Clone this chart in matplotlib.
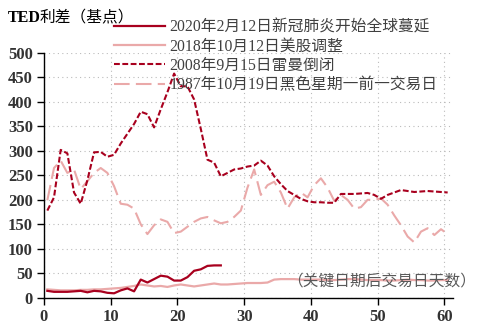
import numpy as np
import matplotlib
matplotlib.use('Agg')
import matplotlib.pyplot as plt

# 关键日期后交易日天数
days = np.arange(61) + 0.5

# TED利差（基点）
ted_2020 = [14, 12, 12, 12, 13, 14, 11, 14, 13, 10, 9, 15, 19, 13, 37, 31, 38, 45, 43, 35,
            35, 42, 55, 58, 65, 66, 66]
ted_2018 = [17, 16, 15, 15, 15, 16, 16, 17, 17, 18, 19, 20, 22, 24, 27, 25, 23, 24, 22, 25,
            27, 25, 23, 25, 27, 29, 27, 27, 28, 29, 30, 30, 30, 31, 37, 38, 38, 38, 37, 37,
            37, 37, 36, 36, 37, 38, 38, 37, 36, 36, 36, 35, 35, 36, 37, 36, 36, 35, 35, 36, 36]
ted_2008 = [178, 205, 302, 295, 215, 192, 240, 297, 298, 288, 292, 315, 335, 355, 380, 375, 348, 385, 420, 458,
            432, 432, 405, 345, 282, 276, 248, 255, 262, 264, 268, 270, 280, 270, 248, 232, 218, 210, 202, 197,
            195, 195, 194, 194, 212, 212, 212, 213, 214, 210, 202, 210, 215, 220, 218, 216, 217, 218, 217, 216, 215]
ted_1987 = [199, 265, 280, 255, 262, 222, 238, 255, 265, 255, 228, 192, 190, 182, 150, 130, 148, 160, 155, 132,
            135, 145, 155, 162, 165, 158, 152, 155, 165, 178, 225, 262, 210, 230, 237, 215, 182, 205, 215, 205,
            230, 244, 225, 198, 210, 200, 182, 185, 200, 200, 203, 190, 168, 148, 125, 113, 135, 142, 128, 140, 130]

labels = ['2020年2月12日新冠肺炎开始全球蔓延', '2018年10月12日美股调整',
          '2008年9月15日雷曼倒闭', '1987年10月19日黑色星期一前一交易日']

dark = '#A8001E'
pink = '#EAA9A9'
cjk = ['Liberation Serif', 'Noto Sans CJK SC', 'DejaVu Sans']

fig = plt.figure(figsize=(4.8, 3.3), dpi=100)
ax = fig.add_axes([44/480, 1-297.7/330, 409/480, 244.7/330])

ax.plot(days[:len(ted_2020)], ted_2020, color=dark, lw=1.6, label=labels[0], zorder=4)
ax.plot(days, ted_2018, color=pink, lw=1.6, label=labels[1], zorder=3)
ax.plot(days, ted_2008, color=dark, lw=1.5, dashes=(2.8, 1.2), label=labels[2], zorder=3)
ax.plot(days, ted_1987, color=pink, lw=1.5, dashes=(7.5, 3), label=labels[3], zorder=2)

ax.set_xlim(0, 61.3)
ax.set_ylim(0, 500)
ax.set_xticks(range(0, 61, 10))
ax.set_yticks(range(0, 501, 50))
ax.grid(True, linestyle=(0, (1, 3)), color='#bbbbbb', lw=0.8)
ax.set_axisbelow(True)
for s in ['top', 'right']:
    ax.spines[s].set_visible(False)
for s in ['left', 'bottom']:
    ax.spines[s].set_color('black')
    ax.spines[s].set_linewidth(1)
ax.tick_params(direction='out', length=5, width=1, colors='black', pad=3)
for t in ax.get_xticklabels() + ax.get_yticklabels():
    t.set_fontfamily('Liberation Serif')
    t.set_fontweight('bold')
    t.set_fontsize(12)
    t.set_color('#333333')

fig.text(8/480, 1-18/330, 'TED', family='Liberation Serif', fontweight='bold', fontsize=11.5,
         color='black', va='center', ha='left')
fig.text(40/480, 1-18/330, '利差（基点）', family=['Noto Sans CJK SC', 'DejaVu Sans'], fontsize=11.3,
         color='black', va='center', ha='left')
fig.text(287/480, 1-281/330, '（关键日期后交易日天数）', family=['Noto Sans CJK SC', 'DejaVu Sans'],
         fontsize=11.3, color='#595959', ha='left', va='center')

fig.legend(loc='upper left', bbox_to_anchor=(114/480, 1-19/330), frameon=False,
           prop={'family': cjk, 'size': 11.3}, labelcolor='#404040', handlelength=3.25,
           handletextpad=0.3, labelspacing=0.22, borderpad=0, borderaxespad=0)

fig.savefig('out.png', dpi=100)
